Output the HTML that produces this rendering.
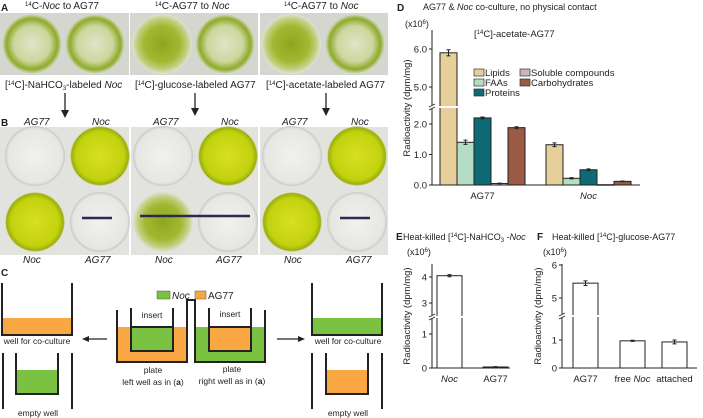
<!DOCTYPE html>
<html><head><meta charset="utf-8"><style>
html,body{margin:0;padding:0;background:#fff;}
svg{display:block;font-family:"Liberation Sans",Arial,sans-serif;}
</style></head><body>
<svg id="fig" width="703" height="418" viewBox="0 0 703 418" xmlns="http://www.w3.org/2000/svg">
<defs>
<radialGradient id="gFull" cx="50%" cy="50%" r="50%"><stop offset="0" stop-color="#c9d35a"/><stop offset="0.75" stop-color="#a8bd2c"/><stop offset="0.9" stop-color="#7e9a20"/><stop offset="1" stop-color="#d8dccf"/></radialGradient>
<radialGradient id="gPale" cx="50%" cy="50%" r="50%"><stop offset="0" stop-color="#e0e4c8"/><stop offset="0.6" stop-color="#cdd69c"/><stop offset="0.85" stop-color="#8faa2a"/><stop offset="1" stop-color="#d8dccf"/></radialGradient>
<radialGradient id="gDark" cx="50%" cy="50%" r="50%"><stop offset="0" stop-color="#8da61e"/><stop offset="0.6" stop-color="#a3b832"/><stop offset="0.85" stop-color="#c3cf80"/><stop offset="1" stop-color="#dfe2d6"/></radialGradient>
<radialGradient id="gBright" cx="50%" cy="50%" r="50%"><stop offset="0" stop-color="#d8e022"/><stop offset="0.8" stop-color="#c2d20e"/><stop offset="0.95" stop-color="#9cae10"/><stop offset="1" stop-color="#e8e8e0"/></radialGradient>
<radialGradient id="gEmpty" cx="50%" cy="50%" r="50%"><stop offset="0" stop-color="#f1f1ee"/><stop offset="0.9" stop-color="#e6e6e3"/><stop offset="1" stop-color="#c8c8c6"/></radialGradient>
</defs>
<g font-size="10" fill="#222">
<!-- Panel A -->
<text x="1" y="11" font-weight="bold" font-size="10">A</text>
<text x="25" y="9"><tspan font-size="6" dy="-3">14</tspan><tspan dy="3">C-</tspan><tspan font-style="italic">Noc</tspan> to AG77</text>
<text x="155" y="9"><tspan font-size="6" dy="-3">14</tspan><tspan dy="3">C-AG77 to </tspan><tspan font-style="italic">Noc</tspan></text>
<text x="284" y="9"><tspan font-size="6" dy="-3">14</tspan><tspan dy="3">C-AG77 to </tspan><tspan font-style="italic">Noc</tspan></text>
<g>
<rect x="0" y="13" width="129" height="62" fill="#d4d6cf"/><rect x="130" y="13" width="128" height="62" fill="#d4d6cf"/><rect x="260" y="13" width="128" height="62" fill="#d4d6cf"/>
<circle cx="32" cy="44" r="30" fill="url(#gPale)"/><circle cx="95" cy="44" r="30" fill="url(#gPale)"/>
<circle cx="162" cy="44" r="30" fill="url(#gDark)"/><circle cx="225" cy="44" r="30" fill="url(#gPale)"/>
<circle cx="291" cy="44" r="30" fill="url(#gDark)"/><circle cx="355" cy="44" r="30" fill="url(#gPale)"/>
</g>
<text x="5" y="88">[<tspan font-size="6" dy="-3">14</tspan><tspan dy="3">C]-NaHCO</tspan><tspan font-size="6" dy="2">3</tspan><tspan dy="-2">-labeled </tspan><tspan font-style="italic">Noc</tspan></text>
<text x="135" y="88">[<tspan font-size="6" dy="-3">14</tspan><tspan dy="3">C]-glucose-labeled AG77</tspan></text>
<text x="266" y="88">[<tspan font-size="6" dy="-3">14</tspan><tspan dy="3">C]-acetate-labeled AG77</tspan></text>
<g stroke="#222" stroke-width="1.3" fill="#222">
<line x1="65" y1="93" x2="65" y2="112"/><path d="M61,110 L69,110 L65,118Z" stroke="none"/>
<line x1="195" y1="93" x2="195" y2="110"/><path d="M191,108 L199,108 L195,116Z" stroke="none"/>
<line x1="326" y1="93" x2="326" y2="110"/><path d="M322,108 L330,108 L326,116Z" stroke="none"/>
</g>
<!-- Panel B -->
<text x="1" y="126" font-weight="bold">B</text>
<g font-style="italic"><text x="24" y="125">AG77</text><text x="92" y="125">Noc</text><text x="153" y="125">AG77</text><text x="221" y="125">Noc</text><text x="282" y="125">AG77</text><text x="351" y="125">Noc</text></g>
<g>
<rect x="0" y="127" width="129" height="128" fill="#e2e2df"/><rect x="131" y="127" width="127" height="128" fill="#e2e2df"/><rect x="260" y="127" width="128" height="128" fill="#e2e2df"/>
<circle cx="35" cy="156" r="30" fill="url(#gEmpty)"/><circle cx="100" cy="156" r="30" fill="url(#gBright)"/>
<circle cx="35" cy="222" r="30" fill="url(#gBright)"/><circle cx="100" cy="222" r="30" fill="url(#gEmpty)"/>
<circle cx="163" cy="156" r="30" fill="url(#gEmpty)"/><circle cx="228" cy="156" r="30" fill="url(#gBright)"/>
<circle cx="163" cy="222" r="30" fill="url(#gDark)"/><circle cx="228" cy="222" r="30" fill="url(#gEmpty)"/>
<circle cx="292" cy="156" r="30" fill="url(#gEmpty)"/><circle cx="357" cy="156" r="30" fill="url(#gBright)"/>
<circle cx="292" cy="222" r="30" fill="url(#gBright)"/><circle cx="357" cy="222" r="30" fill="url(#gEmpty)"/>
<path d="M82,218 h30 M140,216 h110 M340,218 h30" stroke="#2a2a55" stroke-width="2.5"/>
</g>
<g font-style="italic"><text x="23" y="263">Noc</text><text x="85" y="263">AG77</text><text x="155" y="263">Noc</text><text x="216" y="263">AG77</text><text x="284" y="263">Noc</text><text x="346" y="263">AG77</text></g>
<!-- Panel C -->
<text x="1" y="276" font-weight="bold">C</text>
<g stroke="#222" stroke-width="2" fill="none">
<rect x="3" y="318" width="68" height="16" fill="#f9a743" stroke="none"/>
<path d="M2,283 V335 H72 V283"/>
<path d="M3,353 V409 M72,353 V409"/>
<rect x="16" y="370" width="42" height="24" fill="#7cc242" stroke="none"/>
<path d="M16,353 V394 H58 V353"/>
<rect x="118" y="327" width="68" height="35" fill="#f9a743" stroke="none"/>
<path d="M117,310 V362 H187 V310"/>
<rect x="131" y="327" width="42" height="24" fill="#7cc242" stroke="#222"/>
<path d="M131,308 V351 H173 V308"/>
<path d="M187,310 V300 H195 V310" />
<rect x="196" y="327" width="68" height="35" fill="#7cc242" stroke="none"/>
<path d="M195,310 V362 H265 V310"/>
<rect x="209" y="327" width="42" height="24" fill="#f9a743" stroke="#222"/>
<path d="M209,308 V351 H251 V308"/>
<rect x="313" y="318" width="68" height="16" fill="#7cc242" stroke="none"/>
<path d="M312,283 V335 H382 V283"/>
<path d="M312,353 V409 M382,353 V409"/>
<rect x="326" y="370" width="42" height="24" fill="#f9a743" stroke="none"/>
<path d="M326,353 V394 H368 V353"/>
<line x1="107" y1="339" x2="86" y2="339" stroke-width="1.3"/><path d="M82,339 l7,-3 v6z" fill="#222" stroke="none"/>
<line x1="277" y1="339" x2="300" y2="339" stroke-width="1.3"/><path d="M305,339 l-7,-3 v6z" fill="#222" stroke="none"/>
</g>
<g>
<rect x="157" y="291" width="13" height="8" fill="#7cc242" stroke="#555" stroke-width="0.5"/><text x="172" y="299" font-style="italic">Noc</text>
<rect x="195" y="291" width="11" height="8" fill="#f9a743" stroke="#555" stroke-width="0.5"/><text x="208" y="299">AG77</text>
</g>
<g font-size="8.5">
<text x="37" y="344" text-anchor="middle">well for co-culture</text>
<text x="38" y="416" text-anchor="middle">empty well</text>
<text x="152" y="318" text-anchor="middle">insert</text>
<text x="230" y="317" text-anchor="middle">insert</text>
<text x="153" y="373" text-anchor="middle">plate</text>
<text x="153" y="385" text-anchor="middle">left well as in (<tspan font-weight="bold">a</tspan>)</text>
<text x="232" y="372" text-anchor="middle">plate</text>
<text x="232" y="384" text-anchor="middle">right well as in (<tspan font-weight="bold">a</tspan>)</text>
<text x="348" y="344" text-anchor="middle">well for co-culture</text>
<text x="348" y="416" text-anchor="middle">empty well</text>
</g>
<!-- Panel D -->
<text x="397" y="11" font-weight="bold">D</text>
<text x="423" y="10" font-size="9">AG77 &amp; <tspan font-style="italic">Noc</tspan> co-culture, no physical contact</text>
<text x="405" y="27" font-size="9">(x10<tspan font-size="6" dy="-3">6</tspan><tspan dy="3">)</tspan></text>
<text x="474" y="37" font-size="9.5">[<tspan font-size="6" dy="-3">14</tspan><tspan dy="3">C]-acetate-AG77</tspan></text>
<text transform="translate(410,108) rotate(-90)" text-anchor="middle" font-size="9.5">Radioactivity (dpm/mg)</text>
<g id="dChart"></g>
<g font-size="9.5">
<rect x="474" y="69" width="10" height="7" fill="#e6cf9a" stroke="#333" stroke-width="0.7"/><text x="485" y="76">Lipids</text>
<rect x="474" y="79" width="10" height="7" fill="#b5dcc4" stroke="#333" stroke-width="0.7"/><text x="485" y="86">FAAs</text>
<rect x="474" y="89" width="10" height="7" fill="#0e6b76" stroke="#333" stroke-width="0.7"/><text x="485" y="96">Proteins</text>
<rect x="520" y="69" width="10" height="7" fill="#c9b8b8" stroke="#333" stroke-width="0.7"/><text x="531" y="76">Soluble compounds</text>
<rect x="520" y="79" width="10" height="7" fill="#9b5a45" stroke="#333" stroke-width="0.7"/><text x="531" y="86">Carbohydrates</text>
</g>
<!-- Panel E -->
<text x="396" y="240" font-weight="bold">E</text>
<text x="403" y="240" font-size="9">Heat-killed [<tspan font-size="6" dy="-3">14</tspan><tspan dy="3">C]-NaHCO</tspan><tspan font-size="6" dy="2">3</tspan><tspan dy="-2"> -</tspan><tspan font-style="italic">Noc</tspan></text>
<text x="407" y="255" font-size="9">(x10<tspan font-size="6" dy="-3">6</tspan><tspan dy="3">)</tspan></text>
<text transform="translate(410,316) rotate(-90)" text-anchor="middle" font-size="9.5">Radioactivity (dpm/mg)</text>
<g id="eChart"></g>
<!-- Panel F -->
<text x="537" y="240" font-weight="bold">F</text>
<text x="552" y="240" font-size="9">Heat-killed [<tspan font-size="6" dy="-3">14</tspan><tspan dy="3">C]-glucose-AG77</tspan></text>
<text x="543" y="255" font-size="9">(x10<tspan font-size="6" dy="-3">6</tspan><tspan dy="3">)</tspan></text>
<text transform="translate(541,316) rotate(-90)" text-anchor="middle" font-size="9.5">Radioactivity (dpm/mg)</text>
<g id="fChart"></g>
</g>
</svg>
<script>
// Panel D data
const dGroups = ["AG77", "Noc"];
const dSeries = ["Lipids", "FAAs", "Proteins", "Soluble compounds", "Carbohydrates"];
const dAG77 = [5.9, 1.4, 2.2, 0.05, 1.88];
const dNoc = [1.32, 0.22, 0.5, 0.01, 0.12];
const dAG77Err = [0.08, 0.07, 0.03, 0.01, 0.03];
const dNocErr = [0.06, 0.02, 0.03, 0.0, 0.01];
const dTicks = [0, 1, 2, 5, 6];
const dTickLabels = ["0.0", "1.0", "2.0", "5.0", "6.0"];
// Panel E data
const eCats = ["Noc", "AG77"];
const eVals = [4.05, 0.03];
const eErr = [0.04, 0.01];
const eTicks = [0, 1, 3, 4];
// Panel F data
const fCats = ["AG77", "free Noc", "attached"];
const fVals = [5.45, 0.97, 0.93];
const fErr = [0.07, 0.02, 0.07];
const fTicks = [0, 1, 5, 6];

const NS = "http://www.w3.org/2000/svg";
function mk(parent, tag, attrs, text) {
  const el = document.createElementNS(NS, tag);
  for (const k in attrs) el.setAttribute(k, attrs[k]);
  if (text !== undefined) el.textContent = text;
  parent.appendChild(el);
  return el;
}
function brokenScale(base, lowPx, brk, upBase, upVal, upPx) {
  return v => v <= brk ? base - v * lowPx : upBase - (v - upVal) * upPx;
}
function drawAxis(g, x0, y0, yTop, x1, ticks, labels, y, breakY) {
  let a = mk(g, "line", {x1: x0, y1: y0, x2: x0, y2: yTop, stroke: "#222", "stroke-width": 1});
  
  
  let b = mk(g, "line", {x1: x0, y1: y0, x2: x1, y2: y0, stroke: "#222", "stroke-width": 1});
  
  
  ticks.forEach((t, i) => {
    const yy = y(t);
    mk(g, "line", {x1: x0 - 3, y1: yy, x2: x0, y2: yy, stroke: "#222"});
    const tl = mk(g, "text", {x: x0 - 5, y: yy + 3.5, "text-anchor": "end", "font-size": "9.5"}, labels[i]);
    
    
  });
  mk(g, "rect", {x: x0 - 4, y: breakY - 2, width: 8, height: 3, fill: "#fff"});
  mk(g, "path", {d: `M${x0-3},${breakY} l6,-3 M${x0-3},${breakY+3} l6,-3`, stroke: "#222", "stroke-width": 0.8});
}
function bar(g, x, w, v, err, y, base, fill, name, breakY) {
  const top = y(v);
  const r = mk(g, "rect", {x: x, y: top, width: w, height: Math.max(base - top, 0.5), fill: fill, stroke: "#222", "stroke-width": 1});
  
  
  if (breakY && top < breakY) mk(g, "line", {x1: x - 1, y1: breakY, x2: x + w + 1, y2: breakY, stroke: "#fff", "stroke-width": 2});
  if (err > 0) {
    const cx = x + w / 2, y1 = y(v + err), y2 = y(v - err);
    mk(g, "path", {d: `M${cx},${y1} V${y2} M${cx-2},${y1} h4 M${cx-2},${y2} h4`, stroke: "#222", "stroke-width": 1});
  }
}
// D
(function(){
  const g = document.getElementById("dChart");
  const y = brokenScale(185, 30.5, 3, 87, 5, 38);
  drawAxis(g, 432, 185, 30, 640, dTicks, dTickLabels, y, 107);
  const colors = ["#e6cf9a", "#b5dcc4", "#0e6b76", "#c9b8b8", "#9b5a45"];
  const starts = [440, 546]; const w = 17;
  [dAG77, dNoc].forEach((vals, gi) => {
    const errs = gi === 0 ? dAG77Err : dNocErr;
    vals.forEach((v, i) => bar(g, starts[gi] + i * w, w, v, errs[i], y, 185, colors[i], "bar-" + dGroups[gi].toLowerCase() + "-" + dSeries[i].split(" ")[0].toLowerCase(), 107));
    const t = mk(g, "text", {x: starts[gi] + 2.5 * w, y: 199, "text-anchor": "middle", "font-size": "9.5", "font-style": gi ? "italic" : "normal"}, dGroups[gi]);
    
    
  });
})();
// E
(function(){
  const g = document.getElementById("eChart");
  const y = brokenScale(368, 34, 1.5, 303, 3, 26);
  drawAxis(g, 432, 368, 264, 510, eTicks, eTicks.map(String), y, 317);
  const xs = [437, 483];
  eVals.forEach((v, i) => {
    bar(g, xs[i], 25, v, eErr[i], y, 368, i ? "#666" : "#fff", "bar-e-" + eCats[i].toLowerCase(), 317);
    const t = mk(g, "text", {x: xs[i] + 12.5, y: 382, "text-anchor": "middle", "font-size": "9.5", "font-style": i ? "normal" : "italic"}, eCats[i]);
    
    
  });
})();
// F
(function(){
  const g = document.getElementById("fChart");
  const y = brokenScale(368, 28, 1.5, 298, 5, 33);
  drawAxis(g, 562, 368, 264, 697, fTicks, fTicks.map(String), y, 316);
  const xs = [573, 620, 662];
  fVals.forEach((v, i) => {
    bar(g, xs[i], 25, v, fErr[i], y, 368, "#fff", "bar-f-" + fCats[i].replace(" ", "-").toLowerCase(), 316);
    const t = mk(g, "text", {x: xs[i] + 12.5, y: 382, "text-anchor": "middle", "font-size": "9.5"});
    if (fCats[i] === "free Noc") {
      mk(t, "tspan", {}, "free ");
      mk(t, "tspan", {"font-style": "italic"}, "Noc");
    } else t.textContent = fCats[i];
    
    
  });
})();
</script>
</body></html>
